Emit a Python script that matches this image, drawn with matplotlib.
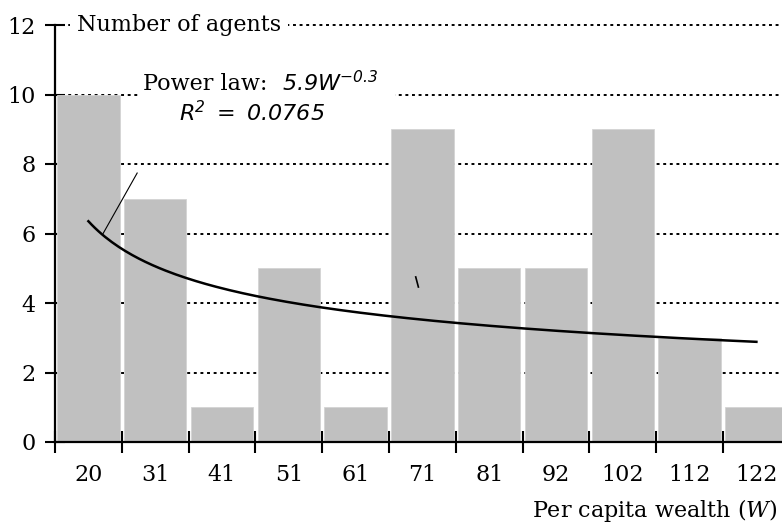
import numpy as np
import matplotlib
matplotlib.use("Agg")
import matplotlib.pyplot as plt
from matplotlib.patches import Rectangle
from matplotlib.ticker import FixedLocator, NullFormatter, FixedFormatter

# data
wealth = ["20", "31", "41", "51", "61", "71", "81", "92", "102", "112", "122"]
agents = [10, 7, 1, 5, 1, 9, 5, 5, 9, 3, 1]
grid_levels = [2, 4, 6, 8, 10, 12]

plt.rcParams['font.family'] = 'DejaVu Serif'
plt.rcParams['mathtext.fontset'] = 'custom'
plt.rcParams['mathtext.it'] = 'DejaVu Serif:italic'
plt.rcParams['mathtext.sf'] = 'DejaVu Sans:oblique'
plt.rcParams['mathtext.rm'] = 'DejaVu Serif'

W, H = 782, 525
fig = plt.figure(figsize=(W / 100, H / 100), dpi=100)
cat_w = 66.8
ax = fig.add_axes([55 / W, (H - 442) / H, 11 * cat_w / W, 417 / H])

x = np.arange(len(agents))
ax.set_xlim(-0.5, len(agents) - 0.5)
ax.set_ylim(0, 12)

# dotted horizontal gridlines behind the bars
ax.hlines(grid_levels, -0.5, len(agents) - 0.5, colors='black',
          linestyles=(0, (1.5, 1.9)), linewidth=1.4, zorder=1, clip_on=False)

ax.bar(x, agents, width=0.935, color='#c0c0c0', edgecolor='#d4d4d4',
       linewidth=0.6, zorder=2)

# power law trendline (log-log fit on category index)
n = np.arange(1, len(agents) + 1)
b, loga = np.polyfit(np.log(n), np.log(agents), 1)
xs = np.linspace(1, len(agents), 200)
ax.plot(xs - 1, np.exp(loga) * xs ** b, color='black', lw=1.8, zorder=3)

# spines and ticks
for s in ['top', 'right']:
    ax.spines[s].set_visible(False)
ax.spines['left'].set_linewidth(1.6)
ax.spines['bottom'].set_linewidth(1.6)
ax.spines['left'].set_zorder(5)
ax.spines['bottom'].set_zorder(5)

ax.set_yticks(grid_levels + [0])
ax.tick_params(axis='y', direction='inout', length=14, width=1.5,
               labelsize=16, pad=7)
ax.xaxis.set_major_locator(FixedLocator(np.arange(-0.5, len(agents), 1.0)))
ax.xaxis.set_major_formatter(NullFormatter())
ax.xaxis.set_minor_locator(FixedLocator(x))
ax.xaxis.set_minor_formatter(FixedFormatter(wealth))
ax.tick_params(axis='x', which='major', direction='inout', length=16, width=1.5)
ax.tick_params(axis='x', which='minor', length=0, labelsize=16, pad=16)

# texts
ax.text(-0.17, 12, "Number of agents", fontsize=16, ha='left', va='center',
        bbox=dict(facecolor='white', edgecolor='none', pad=5), zorder=4)
# white band hiding the gridline behind the trendline label
ax.add_patch(Rectangle((0.74, 9.85), 3.85, 0.3, facecolor='white',
                       edgecolor='none', zorder=1.5))
ax.text(0.82, 10.3, "Power law:", fontsize=16, ha='left', va='center', zorder=4)
ax.text(2.9, 10.3, r"$\mathsf{5.9W}^{\mathsf{-0.3}}$", fontsize=16,
        ha='left', va='center', zorder=4)
ax.text(2.45, 9.45, r"$\mathsf{R}^{\mathsf{2}}\mathsf{\ =\ 0.0765}$", fontsize=16,
        ha='center', va='center', zorder=4)

# leader line from label to curve, and small stray stroke
ax.plot([0.73, 0.22], [7.74, 6.0], color='black', lw=0.8, zorder=4)
ax.plot([4.90, 4.94], [4.75, 4.46], color='black', lw=1.2, zorder=4)

fig.text(778 / W, 1 - 510 / H, r"Per capita wealth ($\mathit{W}$)",
         fontsize=16, ha='right', va='center')

fig.savefig("out.png", dpi=100)
